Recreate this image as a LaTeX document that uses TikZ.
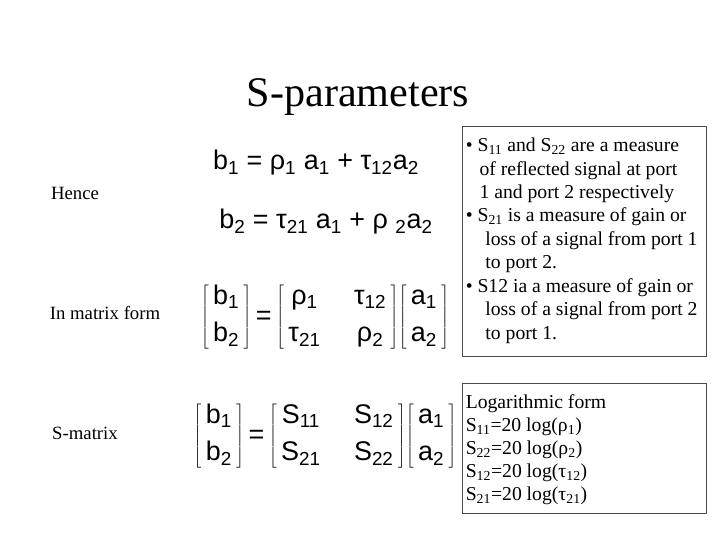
\documentclass[tikz,border=0pt]{standalone}
\usepackage{fontspec}
\setmainfont{Liberation Serif}
\setsansfont{Liberation Sans}
\newcommand{\sub}[1]{\textsubscript{#1}}
\newcommand{\colmat}[2]{$\left[\begin{tabular}{@{\,}c@{\,}}#1\\[6pt]#2\end{tabular}\right]$}
\newcommand{\sqmat}[4]{$\left[\begin{tabular}{@{\,}c@{\hspace{1.0cm}}c@{\,}}#1&#2\\[6pt]#3&#4\end{tabular}\right]$}
\begin{document}
\begin{tikzpicture}[x=0.03cm,y=-0.03cm,
  eqn/.style={font=\sffamily\fontsize{23}{26}\selectfont},
  lbl/.style={font=\fontsize{16}{19}\selectfont},
  infobox/.style={draw=black!70, inner xsep=3pt, inner ysep=10pt,
    font=\fontsize{16.8}{20}\selectfont}]
\useasboundingbox (0,0) rectangle (720,540);
\node (title) at (358,97) {\fontsize{36}{40}\selectfont S-parameters};
\node[lbl] (hence) at (75,193) {Hence};
\node[lbl] (mform) at (105,313) {In matrix form};
\node[lbl] (smat) at (85,433) {S-matrix};
\node[eqn] (eq1) at (316,163) {b\sub{1} = ρ\sub{1} a\sub{1} + τ\sub{12}a\sub{2}};
\node[eqn] (eq2) at (326,222) {b\sub{2} = τ\sub{21} a\sub{1} + ρ \sub{2}a\sub{2}};
\node[eqn] (m1) at (325,317) {\colmat{b\sub{1}}{b\sub{2}}\,=\,\sqmat{ρ\sub{1}}{τ\sub{12}}{τ\sub{21}}{ρ\sub{2}}\colmat{a\sub{1}}{a\sub{2}}};
\node[eqn] (m2) at (325,436) {\colmat{b\sub{1}}{b\sub{2}}\,=\,\sqmat{S\sub{11}}{S\sub{12}}{S\sub{21}}{S\sub{22}}\colmat{a\sub{1}}{a\sub{2}}};
\node[infobox, anchor=north west] (info) at (462,126) {\parbox[t][6.2cm][t]{7.1cm}{%
• S\sub{11} and S\sub{22} are a measure\\
\hspace*{0.7em}of reflected signal at port\\
\hspace*{0.7em}1 and port 2 respectively\\
• S\sub{21} is a measure of gain or\\
\hspace*{1em}loss of a signal from port 1\\
\hspace*{1em}to port 2.\\
• S12 ia a measure of gain or\\
\hspace*{1em}loss of a signal from port 2\\
\hspace*{1em}to port 1.}};
\node[infobox, anchor=north west, font=\fontsize{16.8}{19.5}\selectfont] (logf) at (462,383) {\parbox[t][3.2cm][t]{7.1cm}{%
Logarithmic form\\
S\sub{11}=20 log(ρ\sub{1})\\
S\sub{22}=20 log(ρ\sub{2})\\
S\sub{12}=20 log(τ\sub{12})\\
S\sub{21}=20 log(τ\sub{21})}};
\end{tikzpicture}
\end{document}
